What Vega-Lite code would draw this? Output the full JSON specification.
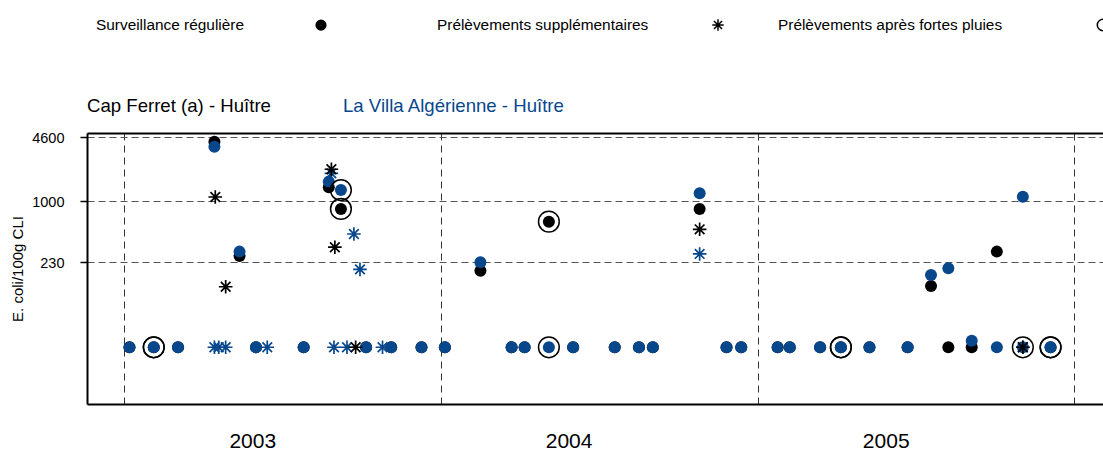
{
  "$schema": "https://vega.github.io/schema/vega-lite/v6.json",
  "width": 1016,
  "height": 271,
  "autosize": {"type": "none"},
  "padding": {"left": 87, "top": 133, "right": 0, "bottom": 47},
  "background": "white",
  "config": {
    "view": {"stroke": null},
    "font": "Liberation Sans",
    "legend": {"padding": 0}
  },
  "data": {
    "values": [
      {"date": "2003-01-07", "site": "Cap Ferret (a) - Huître", "type": "Surveillance régulière", "value": 30},
      {"date": "2003-01-07", "site": "La Villa Algérienne - Huître", "type": "Surveillance régulière", "value": 30},
      {"date": "2003-02-04", "site": "Cap Ferret (a) - Huître", "type": "Prélèvements après fortes pluies", "value": 30},
      {"date": "2003-02-04", "site": "La Villa Algérienne - Huître", "type": "Prélèvements après fortes pluies", "value": 30},
      {"date": "2003-03-04", "site": "Cap Ferret (a) - Huître", "type": "Surveillance régulière", "value": 30},
      {"date": "2003-03-04", "site": "La Villa Algérienne - Huître", "type": "Surveillance régulière", "value": 30},
      {"date": "2003-04-15", "site": "Cap Ferret (a) - Huître", "type": "Surveillance régulière", "value": 4140},
      {"date": "2003-04-15", "site": "La Villa Algérienne - Huître", "type": "Surveillance régulière", "value": 3675},
      {"date": "2003-04-15", "site": "La Villa Algérienne - Huître", "type": "Prélèvements supplémentaires", "value": 30},
      {"date": "2003-04-16", "site": "Cap Ferret (a) - Huître", "type": "Prélèvements supplémentaires", "value": 1100},
      {"date": "2003-04-20", "site": "La Villa Algérienne - Huître", "type": "Prélèvements supplémentaires", "value": 30},
      {"date": "2003-04-28", "site": "La Villa Algérienne - Huître", "type": "Prélèvements supplémentaires", "value": 30},
      {"date": "2003-04-28", "site": "Cap Ferret (a) - Huître", "type": "Prélèvements supplémentaires", "value": 128},
      {"date": "2003-05-14", "site": "Cap Ferret (a) - Huître", "type": "Surveillance régulière", "value": 268},
      {"date": "2003-05-14", "site": "La Villa Algérienne - Huître", "type": "Surveillance régulière", "value": 297},
      {"date": "2003-06-02", "site": "Cap Ferret (a) - Huître", "type": "Surveillance régulière", "value": 30},
      {"date": "2003-06-02", "site": "La Villa Algérienne - Huître", "type": "Surveillance régulière", "value": 30},
      {"date": "2003-06-15", "site": "La Villa Algérienne - Huître", "type": "Prélèvements supplémentaires", "value": 30},
      {"date": "2003-07-27", "site": "Cap Ferret (a) - Huître", "type": "Surveillance régulière", "value": 30},
      {"date": "2003-07-27", "site": "La Villa Algérienne - Huître", "type": "Surveillance régulière", "value": 30},
      {"date": "2003-08-25", "site": "Cap Ferret (a) - Huître", "type": "Surveillance régulière", "value": 1390},
      {"date": "2003-08-25", "site": "La Villa Algérienne - Huître", "type": "Surveillance régulière", "value": 1590},
      {"date": "2003-08-28", "site": "La Villa Algérienne - Huître", "type": "Prélèvements supplémentaires", "value": 1940},
      {"date": "2003-08-28", "site": "Cap Ferret (a) - Huître", "type": "Prélèvements supplémentaires", "value": 2140},
      {"date": "2003-08-31", "site": "La Villa Algérienne - Huître", "type": "Prélèvements supplémentaires", "value": 30},
      {"date": "2003-09-01", "site": "Cap Ferret (a) - Huître", "type": "Prélèvements supplémentaires", "value": 330},
      {"date": "2003-09-08", "site": "Cap Ferret (a) - Huître", "type": "Prélèvements après fortes pluies", "value": 826},
      {"date": "2003-09-08", "site": "La Villa Algérienne - Huître", "type": "Prélèvements après fortes pluies", "value": 1300},
      {"date": "2003-09-15", "site": "La Villa Algérienne - Huître", "type": "Prélèvements supplémentaires", "value": 30},
      {"date": "2003-09-23", "site": "La Villa Algérienne - Huître", "type": "Prélèvements supplémentaires", "value": 453},
      {"date": "2003-09-25", "site": "Cap Ferret (a) - Huître", "type": "Prélèvements supplémentaires", "value": 30},
      {"date": "2003-09-30", "site": "La Villa Algérienne - Huître", "type": "Prélèvements supplémentaires", "value": 194},
      {"date": "2003-10-07", "site": "Cap Ferret (a) - Huître", "type": "Surveillance régulière", "value": 30},
      {"date": "2003-10-07", "site": "La Villa Algérienne - Huître", "type": "Surveillance régulière", "value": 30},
      {"date": "2003-10-26", "site": "La Villa Algérienne - Huître", "type": "Prélèvements supplémentaires", "value": 30},
      {"date": "2003-11-05", "site": "Cap Ferret (a) - Huître", "type": "Surveillance régulière", "value": 30},
      {"date": "2003-11-05", "site": "La Villa Algérienne - Huître", "type": "Surveillance régulière", "value": 30},
      {"date": "2003-12-10", "site": "Cap Ferret (a) - Huître", "type": "Surveillance régulière", "value": 30},
      {"date": "2003-12-10", "site": "La Villa Algérienne - Huître", "type": "Surveillance régulière", "value": 30},
      {"date": "2004-01-06", "site": "Cap Ferret (a) - Huître", "type": "Surveillance régulière", "value": 30},
      {"date": "2004-01-06", "site": "La Villa Algérienne - Huître", "type": "Surveillance régulière", "value": 30},
      {"date": "2004-02-16", "site": "Cap Ferret (a) - Huître", "type": "Surveillance régulière", "value": 188},
      {"date": "2004-02-16", "site": "La Villa Algérienne - Huître", "type": "Surveillance régulière", "value": 230},
      {"date": "2004-03-23", "site": "Cap Ferret (a) - Huître", "type": "Surveillance régulière", "value": 30},
      {"date": "2004-03-23", "site": "La Villa Algérienne - Huître", "type": "Surveillance régulière", "value": 30},
      {"date": "2004-04-07", "site": "Cap Ferret (a) - Huître", "type": "Surveillance régulière", "value": 30},
      {"date": "2004-04-07", "site": "La Villa Algérienne - Huître", "type": "Surveillance régulière", "value": 30},
      {"date": "2004-05-05", "site": "Cap Ferret (a) - Huître", "type": "Prélèvements après fortes pluies", "value": 609},
      {"date": "2004-05-05", "site": "La Villa Algérienne - Huître", "type": "Prélèvements après fortes pluies", "value": 30},
      {"date": "2004-06-02", "site": "Cap Ferret (a) - Huître", "type": "Surveillance régulière", "value": 30},
      {"date": "2004-06-02", "site": "La Villa Algérienne - Huître", "type": "Surveillance régulière", "value": 30},
      {"date": "2004-07-20", "site": "Cap Ferret (a) - Huître", "type": "Surveillance régulière", "value": 30},
      {"date": "2004-07-20", "site": "La Villa Algérienne - Huître", "type": "Surveillance régulière", "value": 30},
      {"date": "2004-08-17", "site": "Cap Ferret (a) - Huître", "type": "Surveillance régulière", "value": 30},
      {"date": "2004-08-17", "site": "La Villa Algérienne - Huître", "type": "Surveillance régulière", "value": 30},
      {"date": "2004-09-02", "site": "Cap Ferret (a) - Huître", "type": "Surveillance régulière", "value": 30},
      {"date": "2004-09-02", "site": "La Villa Algérienne - Huître", "type": "Surveillance régulière", "value": 30},
      {"date": "2004-10-26", "site": "Cap Ferret (a) - Huître", "type": "Surveillance régulière", "value": 826},
      {"date": "2004-10-26", "site": "La Villa Algérienne - Huître", "type": "Surveillance régulière", "value": 1203},
      {"date": "2004-10-26", "site": "La Villa Algérienne - Huître", "type": "Prélèvements supplémentaires", "value": 281},
      {"date": "2004-10-26", "site": "Cap Ferret (a) - Huître", "type": "Prélèvements supplémentaires", "value": 507},
      {"date": "2004-11-26", "site": "Cap Ferret (a) - Huître", "type": "Surveillance régulière", "value": 30},
      {"date": "2004-11-26", "site": "La Villa Algérienne - Huître", "type": "Surveillance régulière", "value": 30},
      {"date": "2004-12-13", "site": "Cap Ferret (a) - Huître", "type": "Surveillance régulière", "value": 30},
      {"date": "2004-12-13", "site": "La Villa Algérienne - Huître", "type": "Surveillance régulière", "value": 30},
      {"date": "2005-01-24", "site": "Cap Ferret (a) - Huître", "type": "Surveillance régulière", "value": 30},
      {"date": "2005-01-24", "site": "La Villa Algérienne - Huître", "type": "Surveillance régulière", "value": 30},
      {"date": "2005-02-07", "site": "Cap Ferret (a) - Huître", "type": "Surveillance régulière", "value": 30},
      {"date": "2005-02-07", "site": "La Villa Algérienne - Huître", "type": "Surveillance régulière", "value": 30},
      {"date": "2005-03-14", "site": "Cap Ferret (a) - Huître", "type": "Surveillance régulière", "value": 30},
      {"date": "2005-03-14", "site": "La Villa Algérienne - Huître", "type": "Surveillance régulière", "value": 30},
      {"date": "2005-04-07", "site": "Cap Ferret (a) - Huître", "type": "Prélèvements après fortes pluies", "value": 30},
      {"date": "2005-04-07", "site": "La Villa Algérienne - Huître", "type": "Prélèvements après fortes pluies", "value": 30},
      {"date": "2005-05-10", "site": "Cap Ferret (a) - Huître", "type": "Surveillance régulière", "value": 30},
      {"date": "2005-05-10", "site": "La Villa Algérienne - Huître", "type": "Surveillance régulière", "value": 30},
      {"date": "2005-06-23", "site": "Cap Ferret (a) - Huître", "type": "Surveillance régulière", "value": 30},
      {"date": "2005-06-23", "site": "La Villa Algérienne - Huître", "type": "Surveillance régulière", "value": 30},
      {"date": "2005-07-20", "site": "Cap Ferret (a) - Huître", "type": "Surveillance régulière", "value": 130},
      {"date": "2005-07-20", "site": "La Villa Algérienne - Huître", "type": "Surveillance régulière", "value": 170},
      {"date": "2005-08-09", "site": "Cap Ferret (a) - Huître", "type": "Surveillance régulière", "value": 30},
      {"date": "2005-08-09", "site": "La Villa Algérienne - Huître", "type": "Surveillance régulière", "value": 199},
      {"date": "2005-09-05", "site": "Cap Ferret (a) - Huître", "type": "Surveillance régulière", "value": 30},
      {"date": "2005-09-05", "site": "La Villa Algérienne - Huître", "type": "Surveillance régulière", "value": 35},
      {"date": "2005-10-04", "site": "Cap Ferret (a) - Huître", "type": "Surveillance régulière", "value": 297},
      {"date": "2005-10-04", "site": "La Villa Algérienne - Huître", "type": "Surveillance régulière", "value": 30},
      {"date": "2005-11-03", "site": "La Villa Algérienne - Huître", "type": "Surveillance régulière", "value": 1109},
      {"date": "2005-11-03", "site": "La Villa Algérienne - Huître", "type": "Prélèvements après fortes pluies", "value": 30},
      {"date": "2005-11-03", "site": "La Villa Algérienne - Huître", "type": "Prélèvements supplémentaires", "value": 30},
      {"date": "2005-11-03", "site": "Cap Ferret (a) - Huître", "type": "Prélèvements supplémentaires", "value": 30},
      {"date": "2005-12-05", "site": "Cap Ferret (a) - Huître", "type": "Prélèvements après fortes pluies", "value": 30},
      {"date": "2005-12-05", "site": "La Villa Algérienne - Huître", "type": "Prélèvements après fortes pluies", "value": 30}
    ]
  },
  "encoding": {
    "y": {
      "field": "value",
      "type": "quantitative",
      "scale": {"type": "log", "domain": [7.7, 5100], "nice": false, "zero": false},
      "axis": {
        "title": "E. coli/100g CLI",
        "values": [230, 1000, 4600],
        "format": "d",
        "grid": true,
        "gridDash": [7, 4],
        "gridColor": "#555555",
        "gridWidth": 1,
        "gridOpacity": 1,
        "domainColor": "black",
        "domainWidth": 2,
        "tickColor": "black",
        "tickSize": 7,
        "tickWidth": 1.5,
        "labelFontSize": 14.5,
        "labelColor": "black",
        "labelPadding": 16,
        "labelOffset": 1.5,
        "titleFontSize": 15,
        "titleFontWeight": "normal",
        "titleColor": "black",
        "titlePadding": 6
      }
    }
  },
  "layer": [
    {
      "transform": [{"filter": "datum.type !== 'Prélèvements supplémentaires'"}],
      "mark": {"type": "point", "filled": true, "shape": "circle", "size": 144, "opacity": 1},
      "encoding": {
        "x": {
          "field": "date",
          "type": "temporal",
          "scale": {
            "domain": [
              {"utc": true, "year": 2002, "month": 11, "date": 18, "hours": 23},
              {"utc": true, "year": 2006, "month": 2, "date": 3, "hours": 12}
            ]
          },
          "axis": {
            "orient": "bottom",
            "title": null,
            "values": [
              {"utc": true, "year": 2003, "month": 1, "date": 1},
              {"utc": true, "year": 2004, "month": 1, "date": 1},
              {"utc": true, "year": 2005, "month": 1, "date": 1},
              {"utc": true, "year": 2006, "month": 1, "date": 1}
            ],
            "grid": true,
            "gridDash": [7, 5],
            "gridColor": "#333333",
            "gridWidth": 1,
            "gridOpacity": 1,
            "ticks": false,
            "tickSize": 0,
            "labelOffset": 128,
            "labelPadding": 26,
            "labelFontSize": 21,
            "labelColor": "black",
            "labelFlush": false,
            "labelOverlap": false,
            "labelBound": false,
            "labelExpr": "utcyear(datum.value) < 2006 ? utcFormat(datum.value, '%Y') : ''",
            "domainColor": "black",
            "domainWidth": 2
          }
        },
        "color": {
          "field": "site",
          "type": "nominal",
          "scale": {
            "domain": ["Cap Ferret (a) - Huître", "La Villa Algérienne - Huître"],
            "range": ["black", "#08478c"]
          },
          "legend": {
            "title": null,
            "orient": "none",
            "direction": "horizontal",
            "legendX": 0,
            "legendY": -36,
            "symbolSize": 0,
            "symbolStrokeWidth": 0,
            "symbolOpacity": 0,
            "labelOffset": -18.6,
            "labelFontSize": 18.6,
            "labelLimit": 400,
            "columnPadding": 72,
            "labelColor": {"expr": "datum.value === 'Cap Ferret (a) - Huître' ? 'black' : '#08478c'"}
          }
        }
      }
    },
    {
      "transform": [{"filter": "datum.type === 'Prélèvements supplémentaires'"}],
      "mark": {
        "type": "point",
        "shape": "M0,-1L0,1M-1,0L1,0M-0.7071,-0.7071L0.7071,0.7071M-0.7071,0.7071L0.7071,-0.7071",
        "filled": false,
        "size": 185,
        "strokeWidth": 1.7,
        "opacity": 1
      },
      "encoding": {
        "x": {
          "field": "date",
          "type": "temporal",
          "axis": {
            "orient": "top",
            "title": null,
            "labels": false,
            "ticks": false,
            "grid": false,
            "domainColor": "black",
            "domainWidth": 2
          }
        },
        "color": {"field": "site", "type": "nominal"}
      }
    },
    {
      "transform": [{"filter": "datum.type === 'Prélèvements après fortes pluies'"}],
      "mark": {"type": "point", "filled": false, "size": 430, "strokeWidth": 1.5, "color": "black", "opacity": 1},
      "encoding": {
        "x": {"field": "date", "type": "temporal", "axis": null},
        "shape": {
          "field": "type",
          "type": "nominal",
          "scale": {
            "domain": ["Surveillance régulière", "Prélèvements supplémentaires", "Prélèvements après fortes pluies"],
            "range": [
              "M0.85,0A0.85,0.85,0,1,1,-0.85,0A0.85,0.85,0,1,1,0.85,0ZM0.65,0A0.65,0.65,0,1,1,-0.65,0A0.65,0.65,0,1,1,0.65,0ZM0.45,0A0.45,0.45,0,1,1,-0.45,0A0.45,0.45,0,1,1,0.45,0ZM0.25,0A0.25,0.25,0,1,1,-0.25,0A0.25,0.25,0,1,1,0.25,0ZM0.08,0A0.08,0.08,0,1,1,-0.08,0A0.08,0.08,0,1,1,0.08,0Z",
              "M0,-1L0,1M-1,0L1,0M-0.7071,-0.7071L0.7071,0.7071M-0.7071,0.7071L0.7071,-0.7071",
              "circle"
            ]
          },
          "legend": {
            "title": null,
            "orient": "none",
            "direction": "horizontal",
            "legendX": 9,
            "legendY": -116,
            "gridAlign": "all",
            "columnPadding": 7,
            "symbolSize": 130,
            "symbolStrokeWidth": 1.5,
            "symbolStrokeColor": "black",
            "labelFontSize": 15.4,
            "labelColor": "black",
            "labelLimit": 400,
            "symbolOffset": {"expr": "datum.value === 'Surveillance régulière' ? 217.3 : datum.value === 'Prélèvements supplémentaires' ? 273.3 : 317.3"},
            "labelOffset": {"expr": "datum.value === 'Surveillance régulière' ? -232.7 : datum.value === 'Prélèvements supplémentaires' ? -288.7 : -332.7"},
            "encode": {
              "symbols": {
                "stroke": {"value": "black"},
                "size": {"value": 130},
                "strokeWidth": {"value": 1.5}
              }
            }
          }
        }
      }
    }
  ],
  "resolve": {"axis": {"x": "independent"}}
}
